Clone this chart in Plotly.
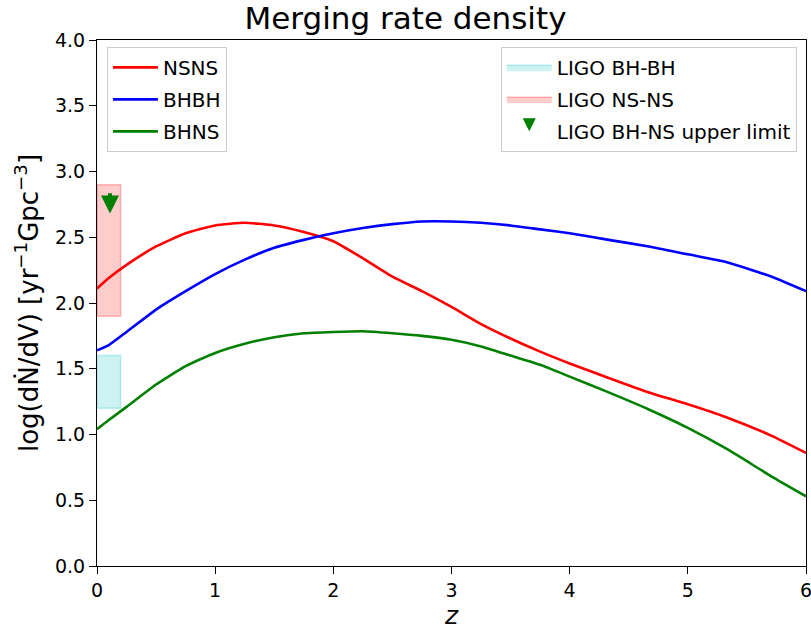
import plotly.graph_objects as go

z = [0, 0.1, 0.25, 0.5, 0.75, 1.0, 1.25, 1.5, 1.75, 2.0, 2.25, 2.5, 2.75, 3.0,
     3.25, 3.5, 3.75, 4.0, 4.33, 4.67, 5.0, 5.33, 5.71, 6.0]
nsns = [2.11, 2.19, 2.29, 2.43, 2.53, 2.59, 2.61, 2.59, 2.54, 2.47, 2.34, 2.20,
        2.09, 1.97, 1.84, 1.73, 1.63, 1.54, 1.43, 1.32, 1.23, 1.13, 0.99, 0.86]
bhbh = [1.64, 1.68, 1.78, 1.95, 2.09, 2.22, 2.33, 2.42, 2.48, 2.53, 2.57, 2.60,
        2.62, 2.62, 2.61, 2.59, 2.56, 2.53, 2.48, 2.43, 2.37, 2.31, 2.20, 2.09]
bhns = [1.04, 1.11, 1.21, 1.38, 1.52, 1.62, 1.69, 1.74, 1.77, 1.78, 1.785, 1.77,
        1.75, 1.72, 1.67, 1.60, 1.53, 1.44, 1.32, 1.19, 1.05, 0.89, 0.68, 0.53]

ligo_z = [0.0, 0.2]
ligo_bhbh = [1.2, 1.6]
ligo_nsns = [1.9, 2.9]
ligo_bhns_z = 0.11
ligo_bhns_limit = [2.90, 2.68]

fig = go.Figure()

def band(zr, yr, fill, edge, name):
    fig.add_trace(go.Scatter(
        x=[zr[0], zr[1], zr[1], zr[0], zr[0]],
        y=[yr[0], yr[0], yr[1], yr[1], yr[0]],
        fill="toself", fillcolor=fill, mode="lines",
        line=dict(color=edge, width=1.5), name=name,
        legend="legend2", legendgroup=name, hoverinfo="skip"))

band(ligo_z, ligo_bhbh, "rgba(0,191,191,0.2)", "rgba(0,191,191,0.25)", "LIGO BH-BH")
band(ligo_z, ligo_nsns, "rgba(255,0,0,0.2)", "rgba(255,0,0,0.25)", "LIGO NS-NS")

fig.add_trace(go.Scatter(
    x=[None], y=[None], mode="markers",
    marker=dict(symbol="arrow-down", size=13, color="green"),
    name="LIGO BH-NS upper limit", legend="legend2", legendgroup="arrow"))

for name, ys, col in [("NSNS", nsns, "red"), ("BHBH", bhbh, "blue"), ("BHNS", bhns, "green")]:
    fig.add_trace(go.Scatter(x=z, y=ys, mode="lines", name=name,
                             line=dict(color=col, width=2.6, shape="spline", smoothing=0.5),
                             legend="legend", legendgroup=name))

fig.add_annotation(x=ligo_bhns_z, y=ligo_bhns_limit[1], ax=ligo_bhns_z, ay=ligo_bhns_limit[0],
                   xref="x", yref="y", axref="x", ayref="y", showarrow=True,
                   arrowhead=2, arrowsize=0.9, arrowwidth=4, arrowcolor="green", text=" ")

font = "DejaVu Sans, sans-serif"
axis_common = dict(showline=True, linecolor="black", linewidth=1.2, mirror=True,
                   ticks="outside", ticklen=7, tickcolor="black", tickwidth=1.2,
                   showgrid=False, zeroline=False, automargin=False,
                   ticklabeloverflow="allow",
                   tickfont=dict(size=19, color="black", family=font))

fig.update_layout(
    width=811, height=633,
    margin=dict(l=97, r=5, t=40, b=67),
    plot_bgcolor="white", paper_bgcolor="white",
    font=dict(family=font, color="black"),
    title=dict(text="Merging rate density", x=0.5, xanchor="center",
               y=0.971, yanchor="middle", font=dict(size=31, family=font)),
    xaxis=dict(range=[0, 6], tickvals=[0, 1, 2, 3, 4, 5, 6],
               title=dict(text="<i>z</i>", font=dict(size=25), standoff=4), **axis_common),
    yaxis=dict(range=[0, 4], tickvals=[0, 0.5, 1, 1.5, 2, 2.5, 3, 3.5, 4],
               tickformat=".1f",
               title=dict(text="log(dṄ/dV) [yr<sup>−1</sup>Gpc<sup>−3</sup>]",
                          font=dict(size=26), standoff=8), **axis_common),
    legend=dict(x=0.014, y=0.987, xanchor="left", yanchor="top",
                bordercolor="#cccccc", borderwidth=1, bgcolor="rgba(255,255,255,0.8)",
                font=dict(size=20), traceorder="grouped", tracegroupgap=3, itemwidth=45),
    legend2=dict(x=0.987, y=0.987, xanchor="right", yanchor="top",
                 bordercolor="#cccccc", borderwidth=1, bgcolor="rgba(255,255,255,0.8)",
                 font=dict(size=20), traceorder="grouped", tracegroupgap=3, itemwidth=45),
)

fig.write_html("out.html", config={"displayModeBar": False},
               post_script="document.body.style.margin='0';")
